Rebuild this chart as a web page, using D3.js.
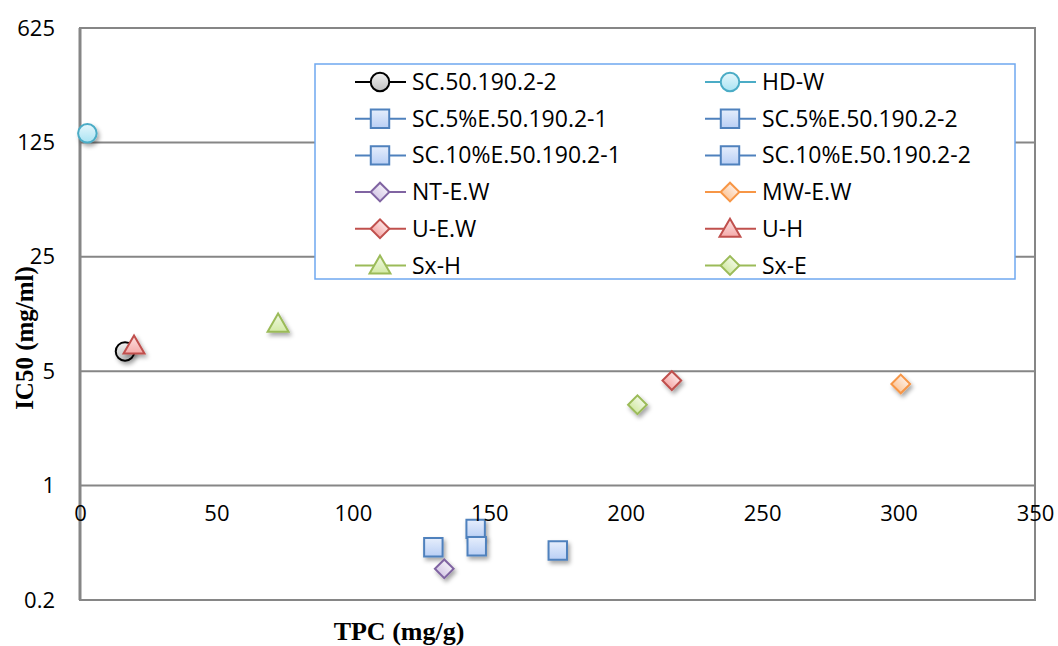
<!DOCTYPE html>
<html>
<head>
<meta charset="utf-8">
<script src="https://cdn.jsdelivr.net/npm/d3@7"></script>
<style>
  body { margin: 0; background: #fff; }
  svg { display: block; }
</style>
</head>
<body>
<div id="chart"></div>
<script>
// series, in legend order (row by row, left column then right column)
var seriesNames = ["SC.50.190.2-2", "HD-W", "SC.5%E.50.190.2-1", "SC.5%E.50.190.2-2",
  "SC.10%E.50.190.2-1", "SC.10%E.50.190.2-2", "NT-E.W", "MW-E.W", "U-E.W", "U-H", "Sx-H", "Sx-E"];
var tpcValues = [16.5, 2.7, 129.5, 145.0, 145.4, 175.1, 133.5, 300.8, 216.9, 19.8, 72.6, 204.3];
var ic50Values = [6.6, 142, 0.42, 0.544, 0.426, 0.401, 0.31, 4.18, 4.38, 7.17, 9.77, 3.12];

var yTicks = [0.2, 1, 5, 25, 125, 625];
var xTicks = [0, 50, 100, 150, 200, 250, 300, 350];

// marker look per series
var markerShapes = ["circle", "circle", "square", "square", "square", "square",
  "diamond", "diamond", "diamond", "triangle", "triangle", "diamond"];
var strokeColors = ["#000000", "#4bacc6", "#4f81bd", "#4f81bd", "#4f81bd", "#4f81bd",
  "#8064a2", "#f79646", "#c0504d", "#c0504d", "#9bbb59", "#9bbb59"];
var fillTop = ["#bfbfbf", "#a9e3f3", "#b9cff5", "#b9cff5", "#b9cff5", "#b9cff5",
  "#d5c9e6", "#fcc89c", "#f5aaa9", "#f5aaa9", "#d3eaa6", "#d3eaa6"];
var fillBottom = ["#f2f2f2", "#e6f7fc", "#e6eefc", "#e6eefc", "#e6eefc", "#e6eefc",
  "#f1edf7", "#feece0", "#fce3e3", "#fce3e3", "#f1f8e3", "#f1f8e3"];

var width = 1058, height = 646;
var plot = {left: 80, right: 1035, top: 28, bottom: 600};

var svg = d3.select("#chart").append("svg")
    .attr("width", width)
    .attr("height", height);

var defs = svg.append("defs");
var shadow = defs.append("filter").attr("id", "shadow")
    .attr("x", "-50%").attr("y", "-50%").attr("width", "200%").attr("height", "200%");
shadow.append("feDropShadow")
    .attr("dx", 2).attr("dy", 3).attr("stdDeviation", 2)
    .attr("flood-color", "#000").attr("flood-opacity", 0.35);

seriesNames.forEach(function(name, i) {
  var g = defs.append("linearGradient").attr("id", "grad" + i)
      .attr("x1", 0).attr("y1", 0).attr("x2", 0).attr("y2", 1);
  g.append("stop").attr("offset", "0%").attr("stop-color", fillBottom[i]);
  g.append("stop").attr("offset", "100%").attr("stop-color", fillTop[i]);
});

var x = d3.scaleLinear().domain([0, 350]).range([plot.left, plot.right]);
var y = d3.scaleLog().base(5).domain([0.2, 625]).range([plot.bottom, plot.top]);

var gridColor = "#868686";

// horizontal gridlines
svg.append("g").selectAll("line")
  .data(yTicks)
  .enter().append("line")
    .attr("x1", plot.left).attr("x2", plot.right)
    .attr("y1", d => y(d)).attr("y2", d => y(d))
    .attr("stroke", gridColor)
    .attr("stroke-width", 2);

// plot frame
svg.append("rect")
    .attr("x", plot.left).attr("y", plot.top)
    .attr("width", plot.right - plot.left)
    .attr("height", plot.bottom - plot.top)
    .attr("fill", "none")
    .attr("stroke", gridColor)
    .attr("stroke-width", 2);
svg.append("line")
    .attr("x1", plot.left).attr("x2", plot.left)
    .attr("y1", plot.top).attr("y2", plot.bottom)
    .attr("stroke", gridColor).attr("stroke-width", 3);

// y axis labels
var yAxis = d3.axisLeft(y).tickValues(yTicks).tickFormat(d3.format("")).tickSize(0).tickPadding(25);
var yg = svg.append("g").attr("transform", "translate(" + plot.left + ",0)").call(yAxis);
yg.select(".domain").remove();
yg.selectAll("text")
    .attr("font-family", "'Open Sans', sans-serif")
    .attr("font-size", 22)
    .attr("fill", "#000");

var symbolFor = {
  circle: d3.symbolCircle,
  square: d3.symbolSquare,
  diamond: d3.symbolSquare,
  triangle: d3.symbolTriangle
};
var sizeFor = {circle: 270, square: 340, diamond: 175, triangle: 190};

function marker(sel, i) {
  var shape = markerShapes[i];
  var path = sel.append("path")
      .attr("d", d3.symbol().type(symbolFor[shape]).size(sizeFor[shape])())
      .attr("fill", "url(#grad" + i + ")")
      .attr("stroke", strokeColors[i])
      .attr("stroke-width", 2);
  if (shape === "diamond") path.attr("transform", "rotate(45)");
  if (shape === "triangle") path.attr("transform", "translate(0,2)");
  return path;
}

// points
var points = svg.append("g");
seriesNames.forEach(function(name, i) {
  var p = points.append("g")
      .attr("transform", "translate(" + x(tpcValues[i]) + "," + y(ic50Values[i]) + ")")
      .attr("filter", "url(#shadow)");
  marker(p, i);
});

// x axis labels, hung under the line at 1
var xAxis = d3.axisBottom(x).tickValues(xTicks).tickSize(0).tickPadding(20);
var xg = svg.append("g").attr("transform", "translate(0," + y(1) + ")").call(xAxis);
xg.select(".domain").remove();
xg.selectAll("text")
    .attr("font-family", "'Open Sans', sans-serif")
    .attr("font-size", 22)
    .attr("fill", "#000");

// axis titles
svg.append("text")
    .attr("transform", "translate(33,338) rotate(-90)")
    .attr("text-anchor", "middle")
    .attr("font-family", "'Liberation Serif', 'Times New Roman', serif")
    .attr("font-weight", "bold")
    .attr("font-size", 25)
    .text("IC50 (mg/ml)");
svg.append("text")
    .attr("x", 399).attr("y", 640)
    .attr("text-anchor", "middle")
    .attr("font-family", "'Liberation Serif', 'Times New Roman', serif")
    .attr("font-weight", "bold")
    .attr("font-size", 26)
    .text("TPC (mg/g)");

// legend
var legend = svg.append("g");
legend.append("rect")
    .attr("x", 315).attr("y", 64)
    .attr("width", 700).attr("height", 215)
    .attr("fill", "#fff")
    .attr("stroke", "#6fa8f0")
    .attr("stroke-width", 1.5);

seriesNames.forEach(function(name, i) {
  var col = i % 2, row = Math.floor(i / 2);
  var cx = col === 0 ? 380 : 730;
  var cy = 82 + row * 36.7;
  var item = legend.append("g").attr("transform", "translate(" + cx + "," + cy + ")");
  item.append("line")
      .attr("x1", -25).attr("x2", 26)
      .attr("stroke", strokeColors[i])
      .attr("stroke-width", 2);
  marker(item, i);
  item.append("text")
      .attr("x", 32).attr("y", 0)
      .attr("dy", "0.35em")
      .attr("font-family", "'Open Sans', sans-serif")
      .attr("font-size", 23)
      .attr("fill", "#000")
      .text(name);
});
</script>
</body>
</html>
